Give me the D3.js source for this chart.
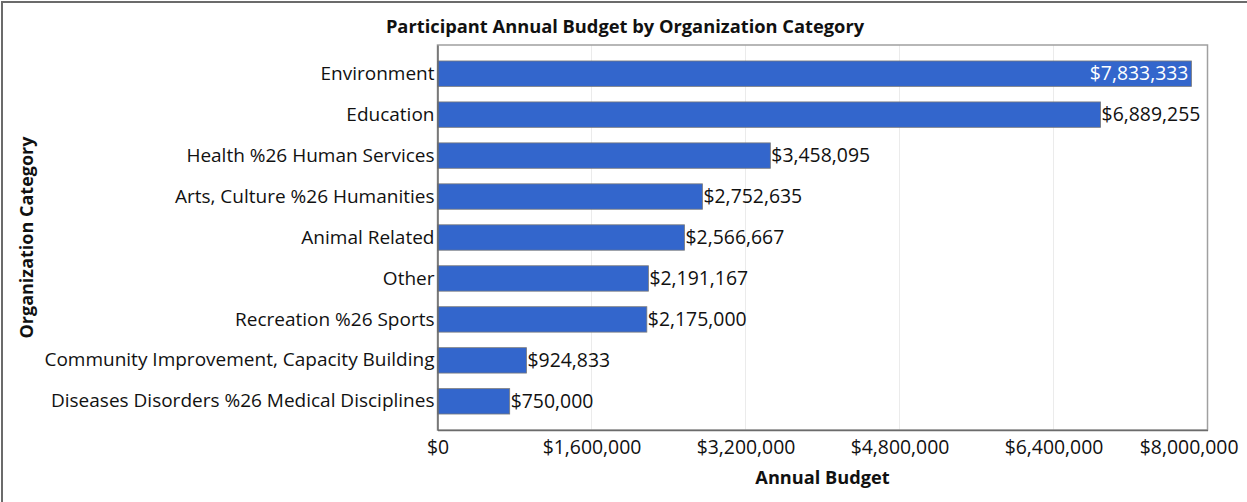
<!DOCTYPE html>
<html><head><meta charset="utf-8">
<script src="https://cdn.jsdelivr.net/npm/d3@7/dist/d3.min.js"></script>
<style>
html,body{margin:0;padding:0;background:#fff;overflow:hidden;}
text{font-family:"Open Sans","Noto Sans",sans-serif;}
</style></head>
<body>
<svg id="chart" width="1247" height="502"></svg>
<script>
const categories = ["Environment","Education","Health %26 Human Services","Arts, Culture %26 Humanities","Animal Related","Other","Recreation %26 Sports","Community Improvement, Capacity Building","Diseases Disorders %26 Medical Disciplines"];
const budgets = [7833333, 6889255, 3458095, 2752635, 2566667, 2191167, 2175000, 924833, 750000];
const tickValues = [0, 1600000, 3200000, 4800000, 6400000, 8000000];
const title = "Participant Annual Budget by Organization Category";
const xTitle = "Annual Budget";
const yTitle = "Organization Category";

const svg = d3.select("#chart");
const W = 1247, H = 502;
const m = {left: 437.5, right: 1207.5, top: 45, bottom: 430};
const fmt = v => "$" + d3.format(",")(v);
const FONT = '"Open Sans","Noto Sans",sans-serif';

// outer frame
svg.append("rect").attr("x",2).attr("y",2).attr("width",W+10).attr("height",H+10)
  .attr("fill","#fff").attr("stroke","#6b6b6b").attr("stroke-width",2);

const x = d3.scaleLinear().domain([0, 8000000]).range([m.left, m.right]);
const y = d3.scaleBand().domain(categories).range([m.top, m.bottom]).paddingInner(0.38).paddingOuter(0.39);

// gridlines
svg.append("g").selectAll("line").data(tickValues.slice(1,-1)).join("line")
  .attr("x1", d=>x(d)).attr("x2", d=>x(d)).attr("y1", m.top).attr("y2", m.bottom)
  .attr("stroke","#ebebeb").attr("stroke-width",1);

// plot border
svg.append("rect").attr("x",m.left).attr("y",m.top).attr("width",m.right-m.left).attr("height",m.bottom-m.top)
  .attr("fill","none").attr("stroke","#a0a0a0").attr("stroke-width",1.5);

// bars
svg.append("g").selectAll("rect").data(categories).join("rect")
  .attr("x", x(0)).attr("y", d=>y(d))
  .attr("width", (d,i)=>x(budgets[i])-x(0)).attr("height", y.bandwidth())
  .attr("fill","#3366cc").attr("stroke","#7a7a7a").attr("stroke-width",0.8);

// value labels
svg.append("g").selectAll("text").data(categories).join("text")
  .attr("x", (d,i)=> i===0 ? x(budgets[i]) - 3 : x(budgets[i]) + 1)
  .attr("y", d=>y(d)+y.bandwidth()/2)
  .attr("dy","0.35em")
  .attr("text-anchor", (d,i)=> i===0 ? "end" : "start")
  .attr("fill", (d,i)=> i===0 ? "#ffffff" : "#111")
  .attr("font-size", 19.4)
  .text((d,i)=>fmt(budgets[i]));

// y axis
const yAxis = svg.append("g").attr("transform",`translate(${m.left},0)`)
  .call(d3.axisLeft(y).tickSize(0).tickPadding(3));
yAxis.select(".domain").attr("stroke","#6b6b6b").attr("stroke-width",1.5);
yAxis.selectAll("text").attr("font-size",19).attr("fill","#111").style("font-family",FONT);

// x axis
const xAxis = svg.append("g").attr("transform",`translate(0,${m.bottom})`)
  .call(d3.axisBottom(x).tickValues(tickValues).tickFormat(fmt).tickSize(0).tickPadding(10));
xAxis.select(".domain").attr("stroke","#6b6b6b").attr("stroke-width",1.5);
xAxis.selectAll("text").attr("font-size",19.4).attr("fill","#111").style("font-family",FONT);
// keep last tick label inside the frame
xAxis.selectAll(".tick").filter(d => d === tickValues[tickValues.length-1])
  .select("text").attr("text-anchor","end").attr("x", 1238 - m.right);

// titles
svg.append("text").attr("x", 625).attr("y", 33).attr("text-anchor","middle")
  .attr("font-size",18.3).attr("font-weight","bold").attr("fill","#111").text(title);
svg.append("text").attr("x", (m.left+m.right)/2).attr("y", 484).attr("text-anchor","middle")
  .attr("font-size",18.2).attr("font-weight","bold").attr("fill","#111").text(xTitle);
svg.append("text").attr("transform",`translate(33,${(m.top+m.bottom)/2}) rotate(-90)`).attr("text-anchor","middle")
  .attr("font-size",18).attr("font-weight","bold").attr("fill","#111").text(yTitle);
</script>
</body></html>
